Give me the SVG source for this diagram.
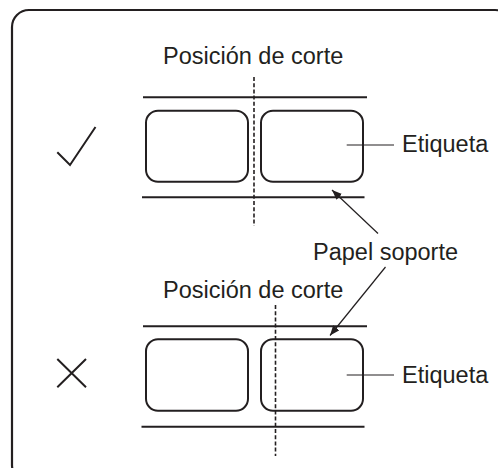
<svg xmlns="http://www.w3.org/2000/svg" width="498" height="468" viewBox="0 0 498 468">
<style>
.t{font-family:"Liberation Sans",Arial,sans-serif;font-size:23.5px;fill:#231f20}
.lbl{fill:none;stroke:#231f20;stroke-width:2}
.band{stroke:#231f20;stroke-width:2}
.cut{stroke:#231f20;stroke-width:1.6;stroke-dasharray:4 2.2}
.lead{stroke:#231f20;stroke-width:1.2;fill:none}
.mark{stroke:#231f20;stroke-width:2;fill:none}
</style>
<defs>
<marker id="ah" viewBox="0 0 10 8" refX="10" refY="4" markerWidth="10" markerHeight="8" markerUnits="userSpaceOnUse" orient="auto">
<path d="M0,0 L10,4 L0,8 Z" fill="#231f20"/>
</marker>
</defs>
<rect x="12" y="10" width="500" height="472" rx="17" fill="#fff" stroke="#231f20" stroke-width="2.2"/>

<g id="ok-section">
<g id="ok-mark"><path class="mark" d="M57.3,152.3 L70,165 L95.5,127"/></g>
<g id="ok-band"><line class="band" x1="143" y1="97.3" x2="367" y2="97.3"/><line class="band" x1="142" y1="197.3" x2="364.5" y2="197.3"/></g>
<g id="ok-label-left"><rect class="lbl" x="146" y="110.7" width="102" height="71" rx="12"/></g>
<g id="ok-label-right"><rect class="lbl" x="261" y="110.7" width="102" height="71" rx="12"/></g>
<g id="ok-cut"><line class="cut" x1="254" y1="77" x2="254" y2="226"/><text class="t" x="163" y="64">Posición de corte</text></g>
<g id="ok-etiqueta"><text class="t" x="402" y="152">Etiqueta</text></g>
</g>

<g id="papel-soporte"><text class="t" x="313" y="260">Papel soporte</text></g>

<g id="ng-section">
<g id="ng-mark"><path class="mark" d="M57.3,359 L86,387.3 M57.3,387.3 L86,359"/></g>
<g id="ng-band"><line class="band" x1="143" y1="326.3" x2="367" y2="326.3"/><line class="band" x1="141.5" y1="426.7" x2="364.5" y2="426.7"/></g>
<g id="ng-label-left"><rect class="lbl" x="146" y="339.3" width="102" height="71.5" rx="12"/></g>
<g id="ng-label-right"><rect class="lbl" x="261" y="339.3" width="102" height="71.5" rx="12"/></g>
<g id="ng-cut"><line class="cut" x1="275.5" y1="305" x2="275.5" y2="456"/><text class="t" x="163" y="298">Posición de corte</text></g>
<g id="ng-etiqueta"><text class="t" x="402" y="383">Etiqueta</text></g>
</g>

<g id="connectors">
<line class="lead" x1="346.7" y1="145" x2="394" y2="145"/>
<line class="lead" x1="346.7" y1="375" x2="394" y2="375"/>
<line class="lead" x1="378" y1="233.5" x2="332" y2="190" marker-end="url(#ah)"/>
<line class="lead" x1="385.5" y1="267" x2="330" y2="335.5" marker-end="url(#ah)"/>
</g>
</svg>
